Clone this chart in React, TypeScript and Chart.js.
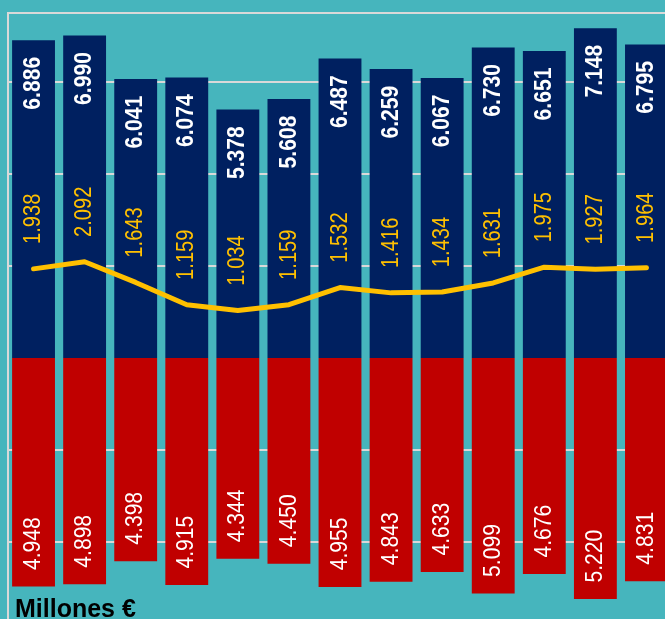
import React, { useEffect, useRef } from "react";
import { Chart, registerables } from "chart.js";

Chart.register(...registerables);

const categories = ["1", "2", "3", "4", "5", "6", "7", "8", "9", "10", "11", "12", "13"];
const ingresos = [6886, 6990, 6041, 6074, 5378, 5608, 6487, 6259, 6067, 6730, 6651, 7148, 6795];
const gastos = [4948, 4898, 4398, 4915, 4344, 4450, 4955, 4843, 4633, 5099, 4676, 5220, 4831];
const saldo = [1938, 2092, 1643, 1159, 1034, 1159, 1532, 1416, 1434, 1631, 1975, 1927, 1964];
const gridTicks = [-6000, -4000, -2000, 0, 2000, 4000, 6000];
const unitLabel = "Millones €";

const BG = "#46B5BD";
const NAVY = "#002060";
const RED = "#C00000";
const YELLOW = "#FFC000";
const GRID = "#D9D9D9";
const FONT = "'Liberation Sans', sans-serif";

const fmt = (v: number) => (Math.abs(v) / 1000).toFixed(3);

const labelPlugin = {
  id: "valueLabels",
  afterDatasetsDraw(chart: any) {
    const ctx = chart.ctx;
    const drawRot = (text: string, x: number, y: number, font: string, color: string, sx: number) => {
      ctx.save();
      ctx.translate(x, y);
      ctx.rotate(-Math.PI / 2);
      ctx.scale(sx, 1);
      ctx.font = font;
      ctx.fillStyle = color;
      ctx.textAlign = "center";
      ctx.textBaseline = "middle";
      ctx.fillText(text, 0, 0);
      ctx.restore();
    };
    const mBlue = chart.getDatasetMeta(0);
    mBlue.data.forEach((el: any, i: number) => {
      drawRot(fmt(ingresos[i]), el.x, el.y + 42, `bold 24px ${FONT}`, "#FFFFFF", 0.88);
    });
    const mRed = chart.getDatasetMeta(1);
    mRed.data.forEach((el: any, i: number) => {
      drawRot(fmt(gastos[i]), el.x, el.y - 42, `24px ${FONT}`, "#FFFFFF", 0.88);
    });
    const mLine = chart.getDatasetMeta(2);
    mLine.data.forEach((el: any, i: number) => {
      drawRot(fmt(saldo[i]), el.x, el.y - 50, `24px ${FONT}`, YELLOW, 0.84);
    });
  },
  afterDraw(chart: any) {
    const ctx = chart.ctx;
    ctx.save();
    ctx.font = `bold 25px ${FONT}`;
    ctx.fillStyle = "#000000";
    ctx.textAlign = "left";
    ctx.textBaseline = "alphabetic";
    ctx.fillText(unitLabel, 15, 617);
    ctx.restore();
  },
};

export default function App() {
  const ref = useRef<HTMLCanvasElement | null>(null);
  useEffect(() => {
    if (!ref.current) return;
    const chart = new Chart(ref.current, {
      type: "bar",
      data: {
        labels: categories,
        datasets: [
          {
            type: "bar",
            data: ingresos,
            backgroundColor: NAVY,
            borderWidth: 0,
            inflateAmount: 1,
            grouped: false,
            order: 1,
          } as any,
          {
            type: "bar",
            data: gastos.map((v) => -v),
            backgroundColor: RED,
            borderWidth: 0,
            inflateAmount: 1,
            grouped: false,
            order: 1,
          } as any,
          {
            type: "line",
            data: saldo,
            borderColor: YELLOW,
            borderWidth: 5,
            borderCapStyle: "round",
            borderJoinStyle: "round",
            pointRadius: 0,
            tension: 0,
            order: 0,
          } as any,
        ],
      },
      options: {
        animation: false,
        responsive: false,
        layout: { padding: { left: 8, top: 13, right: 8, bottom: 6 } },
        datasets: { bar: { categoryPercentage: 1, barPercentage: 0.8 } },
        plugins: { legend: { display: false }, tooltip: { enabled: false }, title: { display: false } },
        scales: {
          x: {
            position: "top",
            offset: true,
            ticks: { display: false },
            grid: { display: false, drawTicks: false },
            border: { display: true, color: GRID, width: 2 },
          },
          y: {
            min: -6000,
            max: 7500,
            afterBuildTicks: (scale: any) => {
              scale.ticks = gridTicks.map((v) => ({ value: v }));
            },
            ticks: { display: false },
            grid: {
              color: (c: any) => (c.tick && c.tick.value === 0 ? "rgba(0,0,0,0)" : GRID),
              lineWidth: 2,
              drawTicks: false,
            },
            border: { display: true, color: GRID, width: 2 },
          },
        },
      },
      plugins: [labelPlugin],
    });
    return () => chart.destroy();
  }, []);
  return (
    <div
      style={{
        position: "fixed",
        left: 0,
        top: 0,
        width: 665,
        height: 619,
        overflow: "hidden",
        background: BG,
      }}
    >
      <canvas ref={ref} width={680} height={640} style={{ display: "block", width: 680, height: 640 }} />
    </div>
  );
}
